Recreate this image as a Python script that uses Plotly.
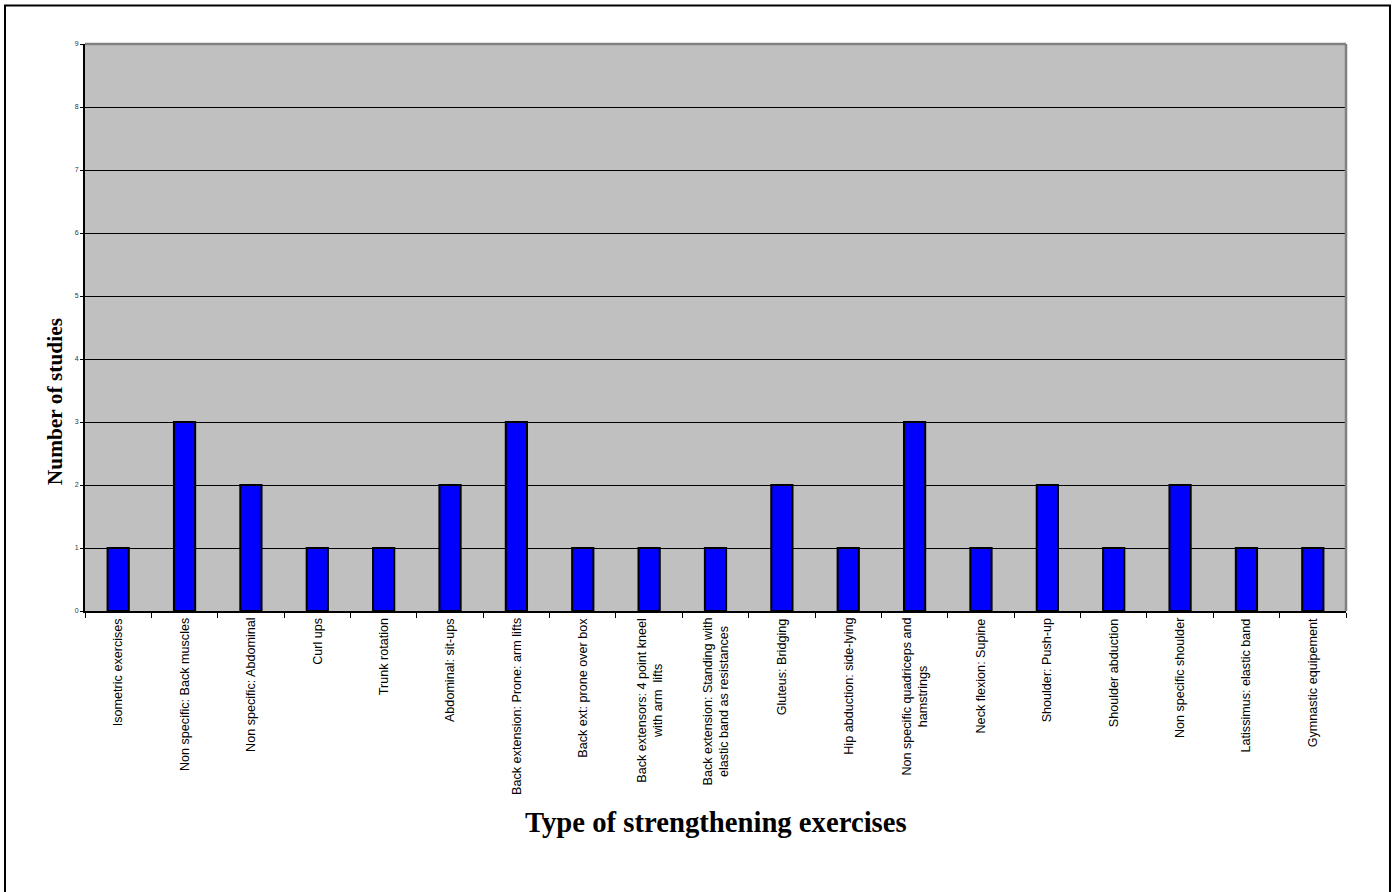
import plotly.graph_objects as go

categories = [
    "Isometric exercises",
    "Non specific: Back muscles",
    "Non specific: Abdominal",
    "Curl ups",
    "Trunk rotation",
    "Abdominal: sit-ups",
    "Back extension: Prone: arm lifts",
    "Back ext: prone over box",
    "Back extensors: 4 point kneel<br>with arm  lifts",
    "Back extension: Standing with<br>elastic band as resistances",
    "Gluteus: Bridging",
    "Hip abduction: side-lying",
    "Non specific quadriceps and<br>hamstrings",
    "Neck flexion: Supine",
    "Shoulder: Push-up",
    "Shoulder abduction",
    "Non specific shoulder",
    "Latissimus: elastic band",
    "Gymnastic equipement",
]
values = [1, 3, 2, 1, 1, 2, 3, 1, 1, 1, 2, 1, 3, 1, 2, 1, 2, 1, 1]
y_ticks = [0, 1, 2, 3, 4, 5, 6, 7, 8, 9]

fig = go.Figure()
fig.add_trace(go.Bar(
    x=categories, y=values,
    marker=dict(color="#0000FF", line=dict(color="#000000", width=2)),
    width=0.32,
    hoverinfo="skip",
))

annotations = []
for c in categories:
    annotations.append(dict(
        x=c, y=0, xref="x", yref="paper", yshift=-5,
        text=c, textangle=-90, showarrow=False,
        xanchor="center", yanchor="top", align="center",
        font=dict(family="Liberation Sans, Arial", size=12.6, color="#000000"),
    ))
annotations.append(dict(
    x=0.5, y=-0.372, xref="paper", yref="paper",
    text="<b>Type of strengthening exercises</b>", showarrow=False,
    xanchor="center", yanchor="middle",
    font=dict(family="Liberation Serif, Times New Roman", size=28.7, color="#000000"),
))
annotations.append(dict(
    x=-0.0238, y=0.37, xref="paper", yref="paper",
    text="<b>Number of studies</b>", showarrow=False, textangle=-90,
    xanchor="center", yanchor="middle",
    font=dict(family="Liberation Serif, Times New Roman", size=21.4, color="#000000"),
))

shapes = [
    dict(type="line", xref="paper", yref="paper", x0=0, x1=1, y0=1, y1=1,
         line=dict(color="#808080", width=2.5)),
    dict(type="line", xref="paper", yref="paper", x0=1, x1=1, y0=0, y1=1,
         line=dict(color="#808080", width=2.5)),
    dict(type="rect", xref="paper", yref="paper",
         x0=(5 - 85) / 1261, x1=(1390 - 85) / 1261,
         y0=(611 - 910) / 567, y1=(611 - 5.5) / 567,
         line=dict(color="#000000", width=2), fillcolor="rgba(0,0,0,0)", layer="below"),
]

fig.update_layout(
    width=1398, height=892,
    margin=dict(l=85, r=52, t=44, b=281),
    paper_bgcolor="#FFFFFF",
    plot_bgcolor="#C0C0C0",
    showlegend=False,
    annotations=annotations,
    shapes=shapes,
    xaxis=dict(
        type="category",
        showticklabels=False,
        showgrid=False, zeroline=False,
        showline=True, linecolor="#000000", linewidth=1.5,
        ticks="outside", ticklen=5, tickcolor="#000000", tickwidth=1,
        tickson="boundaries",
    ),
    yaxis=dict(
        range=[0, 9], tickvals=y_ticks,
        showgrid=True, gridcolor="#000000", gridwidth=1,
        zeroline=False,
        showline=True, linecolor="#000000", linewidth=2,
        ticks="outside", ticklen=3, tickcolor="#000000",
        tickfont=dict(family="Liberation Sans, Arial", size=7, color="#333333"),
    ),
)

fig.write_html("out.html")
